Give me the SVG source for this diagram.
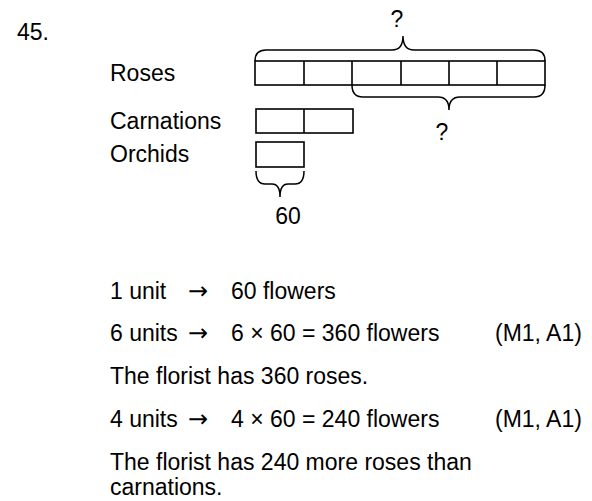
<svg xmlns="http://www.w3.org/2000/svg" width="592" height="501" viewBox="0 0 592 501">
<style>
text{font-family:"Liberation Sans",Arial,sans-serif;font-size:23px;fill:#000}
.ar{font-family:"DejaVu Sans",sans-serif;font-size:24px}
.bar{fill:#fff;stroke:#000;stroke-width:1.6}
.br{fill:none;stroke:#000;stroke-width:1.5}
</style>
<rect width="592" height="501" fill="#fff"/>
<text x="17" y="40">45.</text>
<g id="labels">
<text x="110" y="81">Roses</text>
<text x="110" y="129">Carnations</text>
<text x="110" y="162">Orchids</text>
</g>
<g id="roses">
<rect class="bar" x="255" y="61" width="290" height="24"/>
<path class="bar" d="M304,61V85M352,61V85M401,61V85M449,61V85M497,61V85"/>
</g>
<g id="carnations">
<rect class="bar" x="256" y="109" width="97" height="24"/>
<path class="bar" d="M304,109V133"/>
</g>
<g id="orchids">
<rect class="bar" x="256" y="142" width="48" height="25"/>
</g>
<g id="braces">
<path class="br" d="M255,61Q255,50 266,50L392,50Q403,50 403,36Q403,50 414,50L534,50Q545,50 545,61"/>
<path class="br" d="M352,85Q352,97 363,97L438,97Q449,97 449,110Q449,97 460,97L534,97Q545,97 545,85"/>
<path class="br" d="M256,171Q256,184 265,184L272,184Q280,184 280,197Q280,184 288,184L295,184Q304,184 304,171"/>
</g>
<text x="397" y="27" text-anchor="middle">?</text>
<text x="442" y="140" text-anchor="middle">?</text>
<text x="288" y="224" text-anchor="middle">60</text>
<g id="working">
<text x="110" y="299">1 unit</text><text class="ar" x="188" y="299">→</text><text x="231" y="299">60 flowers</text>
<text x="110" y="341">6 units</text><text class="ar" x="188" y="341">→</text><text x="231" y="341">6 × 60 = 360 flowers</text><text x="495" y="341">(M1, A1)</text>
<text x="110" y="384">The florist has 360 roses.</text>
<text x="110" y="427">4 units</text><text class="ar" x="188" y="427">→</text><text x="231" y="427">4 × 60 = 240 flowers</text><text x="495" y="427">(M1, A1)</text>
<text x="110" y="470">The florist has 240 more roses than</text>
<text x="110" y="495">carnations.</text>
</g>
</svg>
